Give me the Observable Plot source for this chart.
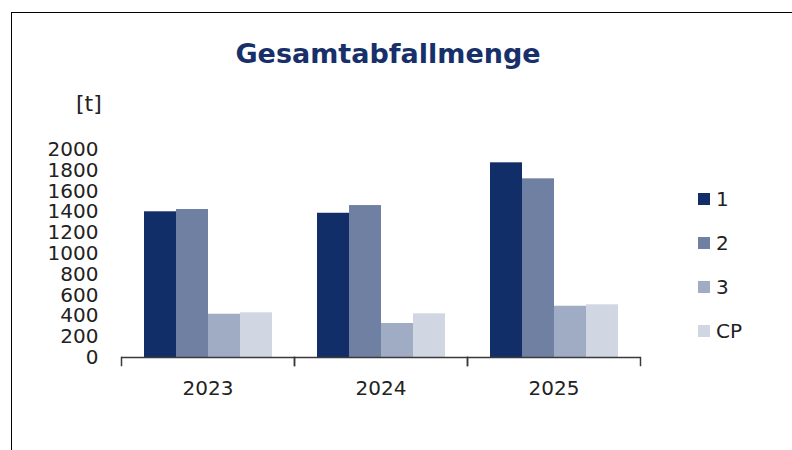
<!DOCTYPE html>
<html>
<head>
<meta charset="utf-8">
<script src="https://cdn.jsdelivr.net/npm/d3@7"></script>
<script src="https://cdn.jsdelivr.net/npm/@observablehq/plot@0.6"></script>
<style>
  html, body { margin: 0; padding: 0; background: #fff; overflow: hidden; }
  #wrap { position: relative; width: 792px; height: 450px; overflow: hidden; font-family: "DejaVu Sans", Verdana, sans-serif; }
  #border { position: absolute; left: 11px; top: 12px; width: 820px; height: 480px; border-top: 1px solid #000; border-left: 1px solid #000; }
  #title { position: absolute; left: 0; top: 40px; width: 776px; text-align: center; font-size: 27px; line-height: 27px; font-weight: bold; color: #17306a; }
  #unit { position: absolute; left: 76px; top: 93px; font-size: 22px; line-height: 22px; color: #222; }
  #chart { position: absolute; left: 0; top: 0; }
  .leg { position: absolute; left: 698px; height: 20px; display: flex; align-items: center; font-size: 20px; color: #222; }
  .leg span.sw { display: inline-block; width: 12px; height: 12px; margin-right: 6px; }
</style>
</head>
<body>
<div id="wrap">
  <div id="border"></div>
  <div id="chart"></div>
  <div id="title">Gesamtabfallmenge</div>
  <div id="unit">[t]</div>
  <div id="legend"></div>
</div>
<script>
const years = ["2023", "2024", "2025"];
const series = ["1", "2", "3", "CP"];
const values1 = [1401, 1387, 1872];
const values2 = [1423, 1461, 1718];
const values3 = [416, 327, 493];
const valuesCP = [430, 420, 507];
const yTicks = [0, 200, 400, 600, 800, 1000, 1200, 1400, 1600, 1800, 2000];
const colors = ["#122e68", "#6f80a3", "#a0abc4", "#d0d6e2"];

const seriesValues = [values1, values2, values3, valuesCP];
const data = [];
years.forEach((yr, i) => {
  series.forEach((s, j) => data.push({year: yr, series: s, value: seriesValues[j][i]}));
});

const innerH = 450 - 149 - 93;
const axisColor = "#3a3a3a";

const chart = Plot.plot({
  width: 792,
  height: 450,
  marginLeft: 120,
  marginRight: 152,
  marginTop: 149,
  marginBottom: 93,
  style: { fontFamily: "'DejaVu Sans', Verdana, sans-serif", fontSize: "20px", color: "#222", background: "transparent" },
  fx: { domain: years, padding: 0, label: null, axis: "bottom", tickSize: 0, tickPadding: 23 },
  x: { domain: series, axis: null, paddingInner: 0, paddingOuter: 0.7 },
  y: { domain: [0, 2000], ticks: yTicks, tickSize: 0, tickPadding: 23, label: null, tickFormat: d => String(d), grid: false },
  color: { domain: series, range: colors },
  marks: [
    Plot.barY(data, { fx: "year", x: "series", y: "value", fill: "series" }),
    Plot.ruleY([0], { stroke: axisColor, strokeWidth: 1.5 }),
    Plot.frame({ anchor: "left", insetTop: innerH, insetBottom: -8, stroke: axisColor, strokeWidth: 1.5 }),
    Plot.frame({ anchor: "right", insetTop: innerH, insetBottom: -8, stroke: axisColor, strokeWidth: 1.5 })
  ]
});
document.getElementById("chart").appendChild(chart);

const legendTops = [189, 233, 277, 321];
const legend = document.getElementById("legend");
series.forEach((s, i) => {
  const row = document.createElement("div");
  row.className = "leg";
  row.style.top = legendTops[i] + "px";
  const sw = document.createElement("span");
  sw.className = "sw";
  sw.style.background = colors[i];
  row.appendChild(sw);
  row.appendChild(document.createTextNode(s));
  legend.appendChild(row);
});
</script>
</body>
</html>
